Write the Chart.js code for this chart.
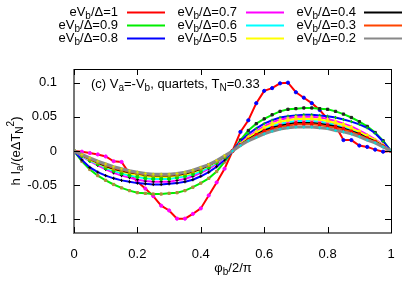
<!DOCTYPE html>
<html>
<head>
<meta charset="utf-8">
<script src="https://cdn.jsdelivr.net/npm/chart.js@4.4.1/dist/chart.umd.min.js"></script>
<style>
  html, body { margin: 0; padding: 0; background: #fff; }
  canvas { display: block; }
</style>
</head>
<body>
<canvas id="c" width="415" height="290"></canvas>
<script>
// phase phi_b/2pi
const xs = [0, 0.025, 0.05, 0.075, 0.1, 0.125, 0.15, 0.175, 0.2, 0.225, 0.25, 0.275, 0.3, 0.325, 0.35, 0.375, 0.4, 0.425, 0.45, 0.475, 0.5,
  0.525, 0.55, 0.575, 0.6, 0.625, 0.65, 0.675, 0.7, 0.725, 0.75, 0.775, 0.8, 0.825, 0.85, 0.875, 0.9, 0.925, 0.95, 0.975, 1];

const xTicks = [0, 0.2, 0.4, 0.6, 0.8, 1];
const yTicks = [-0.1, -0.05, 0, 0.05, 0.1];

const labels = ["1", "0.9", "0.8", "0.7", "0.6", "0.5", "0.4", "0.3", "0.2"];

const v10 = [0, -0.001, -0.003, -0.005, -0.008, -0.015, -0.016, -0.033, -0.045, -0.055, -0.066, -0.080, -0.087, -0.099, -0.099, -0.092, -0.084, -0.065, -0.046, -0.026, 0,
  0.028, 0.045, 0.070, 0.088, 0.092, 0.099, 0.100, 0.086, 0.078, 0.070, 0.060, 0.047, 0.037, 0.016, 0.016, 0.008, 0.006, 0.002, -0.001, 0];
const v09 = [0, -0.015, -0.027, -0.036, -0.043, -0.049, -0.054, -0.058, -0.061, -0.062, -0.063, -0.063, -0.062, -0.061, -0.058, -0.053, -0.047, -0.040, -0.030, -0.016, 0,
  0.016, 0.030, 0.040, 0.047, 0.053, 0.058, 0.061, 0.062, 0.063, 0.063, 0.062, 0.061, 0.058, 0.054, 0.049, 0.043, 0.036, 0.027, 0.015, 0];
const v08 = [0, -0.013, -0.024, -0.031, -0.036, -0.040, -0.043, -0.045, -0.047, -0.048, -0.049, -0.049, -0.048, -0.047, -0.045, -0.042, -0.037, -0.031, -0.023, -0.013, 0,
  0.014, 0.025, 0.033, 0.040, 0.045, 0.049, 0.051, 0.052, 0.053, 0.053, 0.052, 0.051, 0.049, 0.046, 0.043, 0.039, 0.034, 0.026, 0.014, 0];
const v07 = [0, -0.008, -0.015, -0.021, -0.027, -0.032, -0.036, -0.039, -0.042, -0.044, -0.045, -0.045, -0.045, -0.043, -0.041, -0.037, -0.032, -0.026, -0.019, -0.010, 0,
  0.011, 0.021, 0.029, 0.036, 0.042, 0.046, 0.048, 0.050, 0.050, 0.050, 0.049, 0.047, 0.044, 0.040, 0.036, 0.030, 0.024, 0.017, 0.009, 0];
const v06 = [0, -0.007, -0.014, -0.019, -0.025, -0.029, -0.033, -0.036, -0.038, -0.040, -0.041, -0.041, -0.041, -0.039, -0.037, -0.034, -0.030, -0.024, -0.017, -0.009, 0,
  0.010, 0.018, 0.026, 0.032, 0.037, 0.040, 0.042, 0.044, 0.044, 0.044, 0.043, 0.041, 0.038, 0.035, 0.031, 0.026, 0.021, 0.015, 0.007, 0];
const v05 = [0, -0.006, -0.013, -0.018, -0.023, -0.027, -0.030, -0.033, -0.035, -0.037, -0.038, -0.038, -0.038, -0.036, -0.035, -0.032, -0.027, -0.022, -0.016, -0.008, 0,
  0.010, 0.020, 0.027, 0.034, 0.039, 0.043, 0.045, 0.047, 0.047, 0.047, 0.046, 0.044, 0.041, 0.038, 0.033, 0.028, 0.022, 0.016, 0.008, 0];
const v04 = [0, -0.006, -0.012, -0.017, -0.022, -0.026, -0.029, -0.031, -0.033, -0.035, -0.036, -0.036, -0.036, -0.035, -0.033, -0.030, -0.026, -0.021, -0.015, -0.008, 0,
  0.009, 0.017, 0.024, 0.030, 0.034, 0.037, 0.039, 0.041, 0.041, 0.041, 0.040, 0.038, 0.036, 0.033, 0.029, 0.025, 0.019, 0.014, 0.007, 0];
const v03 = [0, -0.006, -0.012, -0.016, -0.021, -0.025, -0.028, -0.030, -0.033, -0.034, -0.035, -0.035, -0.035, -0.034, -0.032, -0.029, -0.025, -0.020, -0.015, -0.008, 0,
  0.009, 0.016, 0.023, 0.028, 0.032, 0.035, 0.037, 0.039, 0.039, 0.039, 0.038, 0.036, 0.034, 0.031, 0.028, 0.023, 0.018, 0.013, 0.007, 0];
const v02 = [0, -0.005, -0.010, -0.015, -0.019, -0.023, -0.026, -0.029, -0.031, -0.033, -0.034, -0.034, -0.034, -0.033, -0.031, -0.028, -0.024, -0.020, -0.014, -0.007, 0,
  0.008, 0.015, 0.020, 0.025, 0.029, 0.032, 0.034, 0.035, 0.035, 0.035, 0.034, 0.033, 0.030, 0.028, 0.025, 0.021, 0.016, 0.012, 0.006, 0];

const values = [v10, v09, v08, v07, v06, v05, v04, v03, v02];

// line colour, marker colour for phi<0.5 and phi>0.5, marker shape
const looks = [
  { c: "#ff0000", neg: "#ff00ff", pos: "#0000ff", ps: "circle", w: 2 },
  { c: "#00ee00", neg: "#b08c3c", pos: "#222222", ps: "rect", w: 2 },
  { c: "#0000ff", neg: "#000000", pos: "#00cc00", ps: "cross", w: 2 },
  { c: "#ff00ff", neg: "#000000", pos: "#ffff00", ps: "cross", w: 2 },
  { c: "#00ffff", neg: "#00dd00", pos: "#ff40ff", ps: "circle", w: 2 },
  { c: "#ffff00", neg: "#00dd00", pos: "#ffee00", ps: "rect", w: 2 },
  { c: "#000000", neg: "#ff8000", pos: "#ff0000", ps: "rect", w: 2 },
  { c: "#ff4500", neg: "#a0a000", pos: "#ff0000", ps: "rect", w: 2 },
  { c: "#888888", neg: "#dddd00", pos: "#00e0e0", ps: "cross", w: 3 }
];

const FONT = "Liberation Sans, Arial, Helvetica, sans-serif";

const datasets = values.map((vals, i) => {
  const lk = looks[i];
  const mc = c => (c.raw && c.raw.x < 0.5) ? lk.neg : lk.pos;
  return {
    label: "eVb/Δ=" + labels[i],
    data: xs.map((x, j) => ({ x: x, y: vals[j] })),
    borderColor: lk.c,
    borderWidth: lk.w,
    pointStyle: lk.ps,
    pointRadius: 1.6,
    pointBorderWidth: 1,
    pointBackgroundColor: mc,
    pointBorderColor: mc,
    tension: 0,
    order: 8 - i
  };
});

// text with sub/superscripts: parts = [[text, kind]] kind: 0 normal, 1 sub, 2 sup
function richWidth(ctx, parts, size) {
  let w = 0;
  parts.forEach(p => {
    ctx.font = (p[1] ? Math.round(size * 0.75) : size) + "px " + FONT;
    w += ctx.measureText(p[0]).width;
  });
  return w;
}
function drawRich(ctx, parts, x, y, size, align) {
  let cx = x;
  if (align === "right") cx = x - richWidth(ctx, parts, size);
  if (align === "center") cx = x - richWidth(ctx, parts, size) / 2;
  ctx.textBaseline = "middle";
  ctx.textAlign = "left";
  parts.forEach(p => {
    const small = p[1] ? Math.round(size * 0.75) : size;
    ctx.font = small + "px " + FONT;
    let dy = 0;
    if (p[1] === 1) dy = size * 0.35;
    if (p[1] === 2) dy = -size * 0.4;
    ctx.fillText(p[0], cx, y + dy);
    cx += ctx.measureText(p[0]).width;
  });
}

const decor = {
  id: "decor",
  afterDraw(chart) {
    const ctx = chart.ctx;
    const a = chart.chartArea;
    const sx = chart.scales.x, sy = chart.scales.y;
    ctx.save();
    ctx.fillStyle = "#000";
    // frame
    ctx.strokeStyle = "#000";
    ctx.lineWidth = 1;
    ctx.beginPath();
    ctx.moveTo(a.left, a.top + 0.5); ctx.lineTo(a.right + 0.5, a.top + 0.5); ctx.lineTo(a.right + 0.5, a.bottom);
    ctx.stroke();
    ctx.strokeStyle = "#777";
    ctx.lineWidth = 2;
    ctx.beginPath();
    ctx.moveTo(a.left, a.top); ctx.lineTo(a.left, a.bottom); ctx.lineTo(a.right + 1, a.bottom);
    ctx.stroke();
    // inward ticks on all four sides
    ctx.strokeStyle = "#000";
    ctx.lineWidth = 1;
    ctx.beginPath();
    xTicks.forEach(v => {
      const px = Math.round(sx.getPixelForValue(v)) + 0.5;
      ctx.moveTo(px, a.bottom); ctx.lineTo(px, a.bottom - 6);
      ctx.moveTo(px, a.top); ctx.lineTo(px, a.top + 6);
    });
    yTicks.forEach(v => {
      const py = Math.round(sy.getPixelForValue(v)) + 0.5;
      ctx.moveTo(a.left, py); ctx.lineTo(a.left + 6, py);
      ctx.moveTo(a.right, py); ctx.lineTo(a.right - 6, py);
    });
    ctx.stroke();

    // annotation inside the plot
    drawRich(ctx, [["(c) V"], ["a", 1], ["=-V"], ["b", 1], [", quartets, T"], ["N", 1], ["=0.33"]], 91, 84, 13, "left");

    // axis titles
    drawRich(ctx, [["φ"], ["b", 1], ["/2/π"]], 233, 268, 13, "center");
    ctx.save();
    ctx.translate(16, 151);
    ctx.rotate(-Math.PI / 2);
    drawRich(ctx, [["h I"], ["a", 1], ["/(eΔT"], ["N", 1], ["2", 2], [")"]], 0, 0, 13, "center");
    ctx.restore();

    // legend, 3 columns x 3 rows
    const colText = [118, 237, 356];
    const colLine = [127, 246, 364];
    const rowY = [12, 25, 38];
    datasets.forEach((d, i) => {
      const col = Math.floor(i / 3), row = i % 3;
      ctx.fillStyle = "#000";
      drawRich(ctx, [["eV"], ["b", 1], ["/Δ=" + labels[i]]], colText[col], rowY[row], 13, "right");
      ctx.strokeStyle = d.borderColor;
      ctx.lineWidth = 2;
      ctx.beginPath();
      ctx.moveTo(colLine[col], rowY[row] + 0.5);
      ctx.lineTo(colLine[col] + 38, rowY[row] + 0.5);
      ctx.stroke();
    });
    ctx.restore();
  }
};

new Chart(document.getElementById("c"), {
  type: "line",
  data: { datasets: datasets },
  options: {
    responsive: false,
    animation: false,
    devicePixelRatio: 1,
    layout: { padding: { left: 0, top: 69, right: 24, bottom: 0 } },
    plugins: { legend: { display: false }, tooltip: { enabled: false } },
    scales: {
      x: {
        type: "linear",
        min: 0, max: 1,
        grid: { display: false },
        border: { display: false },
        afterBuildTicks: s => { s.ticks = xTicks.map(v => ({ value: v })); },
        afterFit: s => { s.height = 57; },
        ticks: { color: "#000", padding: 6, maxRotation: 0, font: { family: FONT, size: 13 },
          callback: v => String(v) }
      },
      y: {
        min: -0.12, max: 0.12,
        grid: { display: false },
        border: { display: false },
        afterBuildTicks: s => { s.ticks = yTicks.map(v => ({ value: v })); },
        afterFit: s => { s.width = 74; },
        ticks: { color: "#000", padding: 9, font: { family: FONT, size: 13 },
          callback: v => String(v) }
      }
    }
  },
  plugins: [decor]
});
</script>
</body>
</html>
